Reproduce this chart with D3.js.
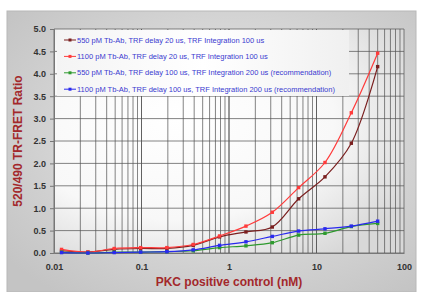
<!DOCTYPE html>
<html>
<head>
<meta charset="utf-8">
<script src="https://cdn.jsdelivr.net/npm/d3@7"></script>
<style>
  html, body { margin: 0; padding: 0; background: #fff; }
  svg { display: block; font-family: "Liberation Sans", Arial, sans-serif; }
</style>
</head>
<body>
<svg id="chart" width="424" height="292"></svg>
<script>
// 2-fold dilution series of PKC positive control (nM)
const concentrations = [0.0122, 0.0244, 0.0488, 0.0977, 0.195, 0.39, 0.78, 1.5625, 3.125, 6.25, 12.5, 25, 50];
const seriesNames = [
  "550 pM Tb-Ab, TRF delay 20 us, TRF Integration 100 us",
  "1100 pM Tb-Ab, TRF delay 20 us, TRF Integration 100 us",
  "550 pM Tb-Ab, TRF delay 100 us, TRF Integration 200 us (recommendation)",
  "1100 pM Tb-Ab, TRF delay 100 us, TRF Integration 200 us (recommendation)"
];
const brown550_20 = [0.05, 0.02, 0.08, 0.1, 0.1, 0.17, 0.36, 0.47, 0.58, 1.21, 1.7, 2.45, 4.16];
const red1100_20 = [0.08, 0.02, 0.1, 0.12, 0.12, 0.19, 0.38, 0.6, 0.91, 1.46, 2.02, 3.13, 4.46];
const green550_100 = [0.02, 0.0, 0.02, 0.02, 0.03, 0.05, 0.12, 0.16, 0.23, 0.4, 0.44, 0.59, 0.66];
const blue1100_100 = [0.01, 0.0, 0.01, 0.02, 0.03, 0.07, 0.17, 0.25, 0.37, 0.49, 0.54, 0.6, 0.71];
const yTicks = [0, 0.5, 1, 1.5, 2, 2.5, 3, 3.5, 4, 4.5, 5];
const xTicks = [0.01, 0.1, 1, 10, 100];

const colors = ["#7a1f1f", "#ff3b3b", "#2e9a2e", "#2a2aee"];
const seriesValues = [brown550_20, red1100_20, green550_100, blue1100_100];

const svg = d3.select("#chart");
const defs = svg.append("defs");

// outer panel gradient
const pg = defs.append("radialGradient").attr("id", "panelGrad")
  .attr("cx", "55%").attr("cy", "45%").attr("r", "70%");
pg.append("stop").attr("offset", "0%").attr("stop-color", "#ececec");
pg.append("stop").attr("offset", "100%").attr("stop-color", "#c4c4c4");

const ag = defs.append("radialGradient").attr("id", "plotGrad")
  .attr("cx", "35%").attr("cy", "40%").attr("r", "75%");
ag.append("stop").attr("offset", "0%").attr("stop-color", "#ffffff");
ag.append("stop").attr("offset", "60%").attr("stop-color", "#f8f8f8");
ag.append("stop").attr("offset", "100%").attr("stop-color", "#d8d8d8");

const lg = defs.append("linearGradient").attr("id", "legGrad")
  .attr("x1", "0%").attr("x2", "100%").attr("y1", "0%").attr("y2", "0%");
lg.append("stop").attr("offset", "0%").attr("stop-color", "#f4f4f4");
lg.append("stop").attr("offset", "50%").attr("stop-color", "#ffffff");
lg.append("stop").attr("offset", "100%").attr("stop-color", "#f0f0f0");

svg.append("rect").attr("x", 7).attr("y", 11).attr("width", 409).attr("height", 281)
  .attr("fill", "url(#panelGrad)").attr("stroke", "#b8b8b8");

const x = d3.scaleLog().domain([0.01, 100]).range([54, 404]);
const y = d3.scaleLinear().domain([0, 5]).range([253, 29]);

svg.append("rect").attr("x", x(0.01)).attr("y", y(5))
  .attr("width", x(100) - x(0.01)).attr("height", y(0) - y(5))
  .attr("fill", "url(#plotGrad)");

// grid
const minor = [];
for (let d = 0.01; d < 100; d *= 10) {
  for (let k = 1; k <= 10; k++) minor.push(d * k);
}
svg.append("g").selectAll("line").data(minor).join("line")
  .attr("x1", d => x(d)).attr("x2", d => x(d))
  .attr("y1", y(0)).attr("y2", y(5))
  .attr("stroke", "#555").attr("stroke-width", 0.9).attr("opacity", 0.8);
svg.append("g").selectAll("line").data(yTicks).join("line")
  .attr("x1", x(0.01)).attr("x2", x(100))
  .attr("y1", d => y(d)).attr("y2", d => y(d))
  .attr("stroke", "#555").attr("stroke-width", 0.9).attr("opacity", 0.8);

// axes
const yAxis = svg.append("g").attr("transform", `translate(${x(0.01)},0)`)
  .call(d3.axisLeft(y).tickValues(yTicks).tickFormat(d3.format(".1f")).tickSize(4).tickPadding(4));
const xAxis = svg.append("g").attr("transform", `translate(0,${y(0)})`)
  .call(d3.axisBottom(x).tickValues(xTicks).tickFormat(d => String(d)).tickSize(0).tickPadding(11));
[yAxis, xAxis].forEach(a => {
  a.select(".domain").attr("stroke", "#777");
  a.selectAll(".tick line").attr("stroke", "#777");
  a.selectAll("text").attr("fill", "#333").attr("font-weight", "bold")
    .attr("font-size", "9px").attr("font-family", "Liberation Sans, Arial, sans-serif");
});

// legend
const legX = 57, legY = 30;
svg.append("rect").attr("x", legX).attr("y", legY).attr("width", 292).attr("height", 66)
  .attr("fill", "url(#legGrad)");
const leg = svg.append("g").selectAll("g").data(seriesNames).join("g")
  .attr("transform", (d, i) => `translate(${legX + 7},${legY + 10 + i * 16.4})`);
leg.append("line").attr("x1", 0).attr("x2", 12).attr("y1", 0).attr("y2", 0)
  .attr("stroke", (d, i) => colors[i]).attr("stroke-width", 1);
leg.append("rect").attr("x", 4.5).attr("y", -1.5).attr("width", 3).attr("height", 3)
  .attr("fill", (d, i) => colors[i]);
leg.append("text").attr("x", 13).attr("y", 0).attr("dy", "0.35em")
  .attr("fill", "#3a3ad0").attr("font-size", "7.5px")
  .text(d => d);

// series
const line = d3.line()
  .x(d => x(d.c)).y(d => y(d.v))
  .curve(d3.curveCatmullRom.alpha(0.5));
seriesValues.forEach((vals, i) => {
  const pts = concentrations.map((c, j) => ({ c, v: vals[j] }));
  svg.append("path").attr("d", line(pts))
    .attr("fill", "none").attr("stroke", colors[i]).attr("stroke-width", 1.2);
  svg.append("g").selectAll("rect").data(pts).join("rect")
    .attr("x", d => x(d.c) - 1.7).attr("y", d => y(d.v) - 1.7)
    .attr("width", 3.4).attr("height", 3.4)
    .attr("fill", colors[i]);
});

// titles
svg.append("text").attr("transform", `translate(22,${(y(0) + y(5)) / 2}) rotate(-90)`)
  .attr("text-anchor", "middle").attr("fill", "#a3282b")
  .attr("font-weight", "bold").attr("font-size", "12px")
  .text("520/490 TR-FRET Ratio");
svg.append("text").attr("x", 229).attr("y", 286)
  .attr("text-anchor", "middle").attr("fill", "#a3282b")
  .attr("font-weight", "bold").attr("font-size", "12px")
  .text("PKC positive control (nM)");
</script>
</body>
</html>
